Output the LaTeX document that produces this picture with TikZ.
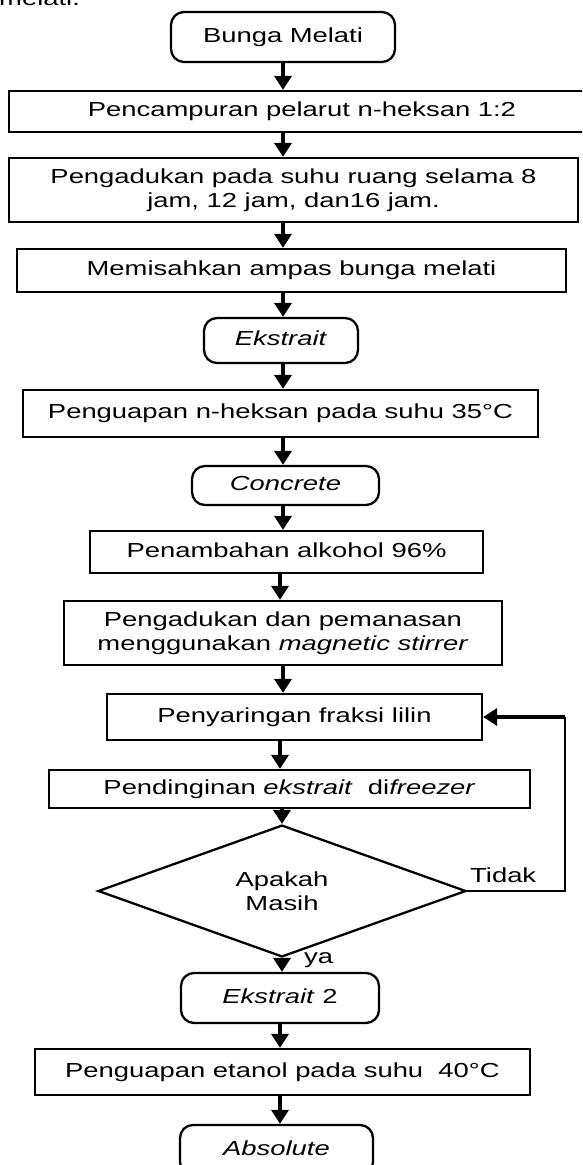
\documentclass[tikz,border=0pt]{standalone}
\usepackage{fontspec}
\setmainfont{Liberation Sans}[FakeStretch=1.35]
\usetikzlibrary{arrows.meta,shapes.geometric}
\begin{document}
\begin{tikzpicture}[x=1pt,y=-1pt,
  every node/.style={font=\fontsize{20.3pt}{24pt}\selectfont, inner sep=0pt},
  procbox/.style={draw, line width=2.3pt, text height=14.3pt, text depth=4.2pt},
  procbox2/.style={draw, line width=2.3pt, align=center},
  termbox/.style={draw, line width=2.3pt, rounded corners=13pt, text height=14.3pt, text depth=4.2pt},
  decbox/.style={draw, line width=2.3pt, shape=diamond, align=center},
  arr/.style={line width=3.8pt, -{Triangle[width=17pt,length=14pt]}},
  thinline/.style={line width=1.3pt},
  lbl/.style={anchor=base west}
]
\clip (0,0) rectangle (582,1165);
\fill[white] (0,0) rectangle (582,1165);
\coordinate (colA) at (283,0);
\coordinate (colB) at (280,0);

\node[lbl] (cut) at (-1,5) {melati.};

\node[termbox, minimum width=224pt, minimum height=50pt] (bunga) at (283,37) {Bunga Melati};
\node[procbox, minimum width=586pt, minimum height=41pt] (campur) at (302,111.5) {Pencampuran pelarut n-heksan 1:2};
\node[procbox2, minimum width=569pt, minimum height=64pt] (aduk) at (293.5,190) {Pengadukan pada suhu ruang selama 8\\jam, 12 jam, dan16 jam.};
\node[procbox, minimum width=549pt, minimum height=43pt] (pisah) at (291.5,270.5) {Memisahkan ampas bunga melati};
\node[termbox, minimum width=154pt, minimum height=45pt] (ekstrait) at (281,340.5) {\textit{Ekstrait}};
\node[procbox, minimum width=515pt, minimum height=47pt] (uap) at (280.5,413.5) {Penguapan n-heksan pada suhu 35°C};
\node[termbox, minimum width=187pt, minimum height=39pt] (concrete) at (285.5,485.5) {\textit{Concrete}};
\node[procbox, minimum width=393pt, minimum height=42pt] (tambah) at (286.5,552) {Penambahan alkohol 96\%};
\node[procbox2, minimum width=438pt, minimum height=64pt] (magnet) at (283,633) {Pengadukan dan pemanasan\\menggunakan \textit{magnetic stirrer}};
\node[procbox, minimum width=375pt, minimum height=46pt] (saring) at (294.5,717) {Penyaringan fraksi lilin};
\node[procbox, minimum width=481pt, minimum height=38pt] (dingin) at (289.5,789) {Pendinginan \textit{ekstrait}\ \ di\textit{freezer}};
\node[decbox, minimum width=368pt, minimum height=108pt] (dia) at (282,891) {Apakah\\Masih};
\node[termbox, minimum width=198pt, minimum height=50pt] (ek2) at (280,998) {\textit{Ekstrait} 2};
\node[procbox, minimum width=495pt, minimum height=46pt] (etanol) at (282.5,1072) {Penguapan etanol pada suhu\ \ 40°C};
\node[termbox, minimum width=193pt, minimum height=50pt] (absolut) at (276.5,1150) {\textit{Absolute}};

\node[lbl] (tidak) at (470,882) {Tidak};
\node[lbl] (ya) at (304,963) {ya};

\draw[arr] (bunga.south -| colA) -- (campur.north -| colA);
\draw[arr] (campur.south -| colA) -- (aduk.north -| colA);
\draw[arr] (aduk.south -| colA) -- (pisah.north -| colA);
\draw[arr] (pisah.south -| colA) -- (ekstrait.north -| colA);
\draw[arr] (ekstrait.south -| colA) -- (uap.north -| colA);
\draw[arr] (uap.south -| colA) -- (concrete.north -| colA);
\draw[arr] (concrete.south -| colA) -- (tambah.north -| colA);
\draw[arr] (tambah.south -| colB) -- (magnet.north -| colB);
\draw[arr] (magnet.south -| colA) -- (saring.north -| colA);
\draw[arr] (saring.south -| colB) -- (dingin.north -| colB);
\draw[arr] (dingin.south -| dia.north) -- (dia.north);
\draw[arr] (dia.south) -- (ek2.north -| dia.south);
\draw[arr] (ek2.south -| colB) -- (etanol.north -| colB);
\draw[arr] (etanol.south -| colB) -- (absolut.north -| colB);

\coordinate (lp1) at (565,891);
\coordinate (lp2) at (565,717);
\draw[thinline] (dia.east) -- (lp1) -- (lp2);
\draw[arr] (lp2) -- (saring.east);
\end{tikzpicture}
\end{document}
